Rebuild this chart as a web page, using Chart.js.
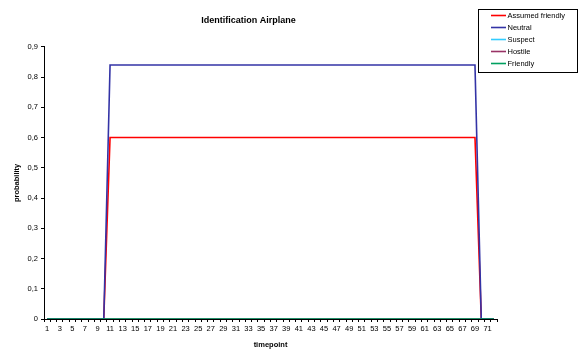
<!DOCTYPE html>
<html>
<head>
<meta charset="utf-8">
<script src="https://cdn.jsdelivr.net/npm/chart.js@4.4.1/dist/chart.umd.min.js"></script>
<style>
  html, body { margin: 0; padding: 0; background: #fff; }
  #wrap { width: 581px; height: 351px; }
</style>
</head>
<body>
<div id="wrap"><canvas id="myChart" width="581" height="351"></canvas></div>
<script>
// timepoints 1..72
const timepoints = [1,2,3,4,5,6,7,8,9,10,11,12,13,14,15,16,17,18,19,20,21,22,23,24,25,26,27,28,29,30,31,32,33,34,35,36,
  37,38,39,40,41,42,43,44,45,46,47,48,49,50,51,52,53,54,55,56,57,58,59,60,61,62,63,64,65,66,67,68,69,70,71,72];

// series values (probability per timepoint)
const assumedFriendly = [0,0,0,0,0,0,0,0,0,0,
  0.6,0.6,0.6,0.6,0.6,0.6,0.6,0.6,0.6,0.6,0.6,0.6,0.6,0.6,0.6,0.6,0.6,0.6,0.6,0.6,
  0.6,0.6,0.6,0.6,0.6,0.6,0.6,0.6,0.6,0.6,0.6,0.6,0.6,0.6,0.6,0.6,0.6,0.6,0.6,0.6,
  0.6,0.6,0.6,0.6,0.6,0.6,0.6,0.6,0.6,0.6,0.6,0.6,0.6,0.6,0.6,0.6,0.6,0.6,0.6,
  0,0,0];
const neutral = [0,0,0,0,0,0,0,0,0,0,
  0.84,0.84,0.84,0.84,0.84,0.84,0.84,0.84,0.84,0.84,0.84,0.84,0.84,0.84,0.84,0.84,0.84,0.84,0.84,0.84,
  0.84,0.84,0.84,0.84,0.84,0.84,0.84,0.84,0.84,0.84,0.84,0.84,0.84,0.84,0.84,0.84,0.84,0.84,0.84,0.84,
  0.84,0.84,0.84,0.84,0.84,0.84,0.84,0.84,0.84,0.84,0.84,0.84,0.84,0.84,0.84,0.84,0.84,0.84,0.84,
  0,0,0];
const suspect = [0,0,0,0,0,0,0,0,0,0,0,0,0,0,0,0,0,0,0,0,0,0,0,0,0,0,0,0,0,0,0,0,0,0,0,0,
  0,0,0,0,0,0,0,0,0,0,0,0,0,0,0,0,0,0,0,0,0,0,0,0,0,0,0,0,0,0,0,0,0,0,0,0];
const hostile = [0,0,0,0,0,0,0,0,0,0,0,0,0,0,0,0,0,0,0,0,0,0,0,0,0,0,0,0,0,0,0,0,0,0,0,0,
  0,0,0,0,0,0,0,0,0,0,0,0,0,0,0,0,0,0,0,0,0,0,0,0,0,0,0,0,0,0,0,0,0,0,0,0];
const friendly = [0,0,0,0,0,0,0,0,0,0,0,0,0,0,0,0,0,0,0,0,0,0,0,0,0,0,0,0,0,0,0,0,0,0,0,0,
  0,0,0,0,0,0,0,0,0,0,0,0,0,0,0,0,0,0,0,0,0,0,0,0,0,0,0,0,0,0,0,0,0,0,0,0];

const FONT = "'Liberation Sans', Arial, sans-serif";

// Leyenda con marco, como en Excel
const boxLegend = {
  id: 'boxLegend',
  afterDraw(chart) {
    const ctx = chart.ctx;
    const x0 = 478, y0 = 9, w = 99, h = 63;
    ctx.save();
    ctx.fillStyle = '#fff';
    ctx.fillRect(x0, y0, w, h);
    ctx.strokeStyle = '#000';
    ctx.lineWidth = 1;
    ctx.strokeRect(x0 + 0.5, y0 + 0.5, w, h);
    ctx.font = '7.5px ' + FONT;
    ctx.textBaseline = 'middle';
    chart.data.datasets.forEach((ds, i) => {
      const y = y0 + 6.5 + i * 12;
      ctx.strokeStyle = ds.borderColor;
      ctx.lineWidth = 1.6;
      ctx.beginPath();
      ctx.moveTo(491, y);
      ctx.lineTo(506, y);
      ctx.stroke();
      ctx.fillStyle = '#000';
      ctx.fillText(ds.label, 507.5, y);
    });
    ctx.restore();
  }
};

const ctx = document.getElementById('myChart').getContext('2d');
const chart = new Chart(ctx, {
  type: 'line',
  data: {
    labels: timepoints,
    datasets: [
      { label: 'Assumed friendly', data: assumedFriendly, borderColor: '#ff0000', order: 2 },
      { label: 'Neutral', data: neutral, borderColor: '#3333a6', order: 1 },
      { label: 'Suspect', data: suspect, borderColor: '#33ccff', order: 4 },
      { label: 'Hostile', data: hostile, borderColor: '#993366', order: 3 },
      { label: 'Friendly', data: friendly, borderColor: '#00a060', order: 0 }
    ]
  },
  options: {
    responsive: false,
    animation: false,
    events: [],
    layout: { padding: { left: 0, right: 84, top: 0, bottom: 0 } },
    elements: {
      point: { radius: 0 },
      line: { borderWidth: 1.6, tension: 0 }
    },
    plugins: {
      legend: { display: false },
      tooltip: { enabled: false },
      title: {
        display: true,
        text: 'Identification Airplane',
        color: '#000',
        font: { family: FONT, size: 9, weight: 'bold' },
        padding: { top: 15, bottom: 21 }
      }
    },
    scales: {
      x: {
        type: 'category',
        offset: true,
        grid: { offset: true, drawOnChartArea: false, drawTicks: true, tickLength: 3, color: '#000' },
        border: { color: '#000', width: 1 },
        ticks: {
          autoSkip: false,
          maxRotation: 0,
          minRotation: 0,
          padding: 2,
          color: '#000',
          font: { family: FONT, size: 7.5 },
          callback: function (val, idx) { return idx % 2 === 0 ? this.getLabelForValue(val) : ''; }
        },
        title: {
          display: true,
          text: 'timepoint',
          color: '#000',
          font: { family: FONT, size: 7.5, weight: 'bold' },
          padding: { top: 3, bottom: 2 }
        },
        afterFit(scale) { scale.height = 32; }
      },
      y: {
        min: 0,
        max: 0.9,
        grid: { drawOnChartArea: false, drawTicks: true, tickLength: 3, color: '#000' },
        border: { color: '#000', width: 1 },
        ticks: {
          stepSize: 0.1,
          padding: 3,
          color: '#000',
          font: { family: FONT, size: 7.5 },
          callback: v => v === 0 ? '0' : v.toFixed(1).replace('.', ',')
        },
        title: {
          display: true,
          text: 'probability',
          color: '#000',
          font: { family: FONT, size: 7.5, weight: 'bold' },
          padding: { top: 12, bottom: 0 }
        },
        afterFit(scale) { scale.width = 44; }
      }
    }
  },
  plugins: [boxLegend]
});
</script>
</body>
</html>
